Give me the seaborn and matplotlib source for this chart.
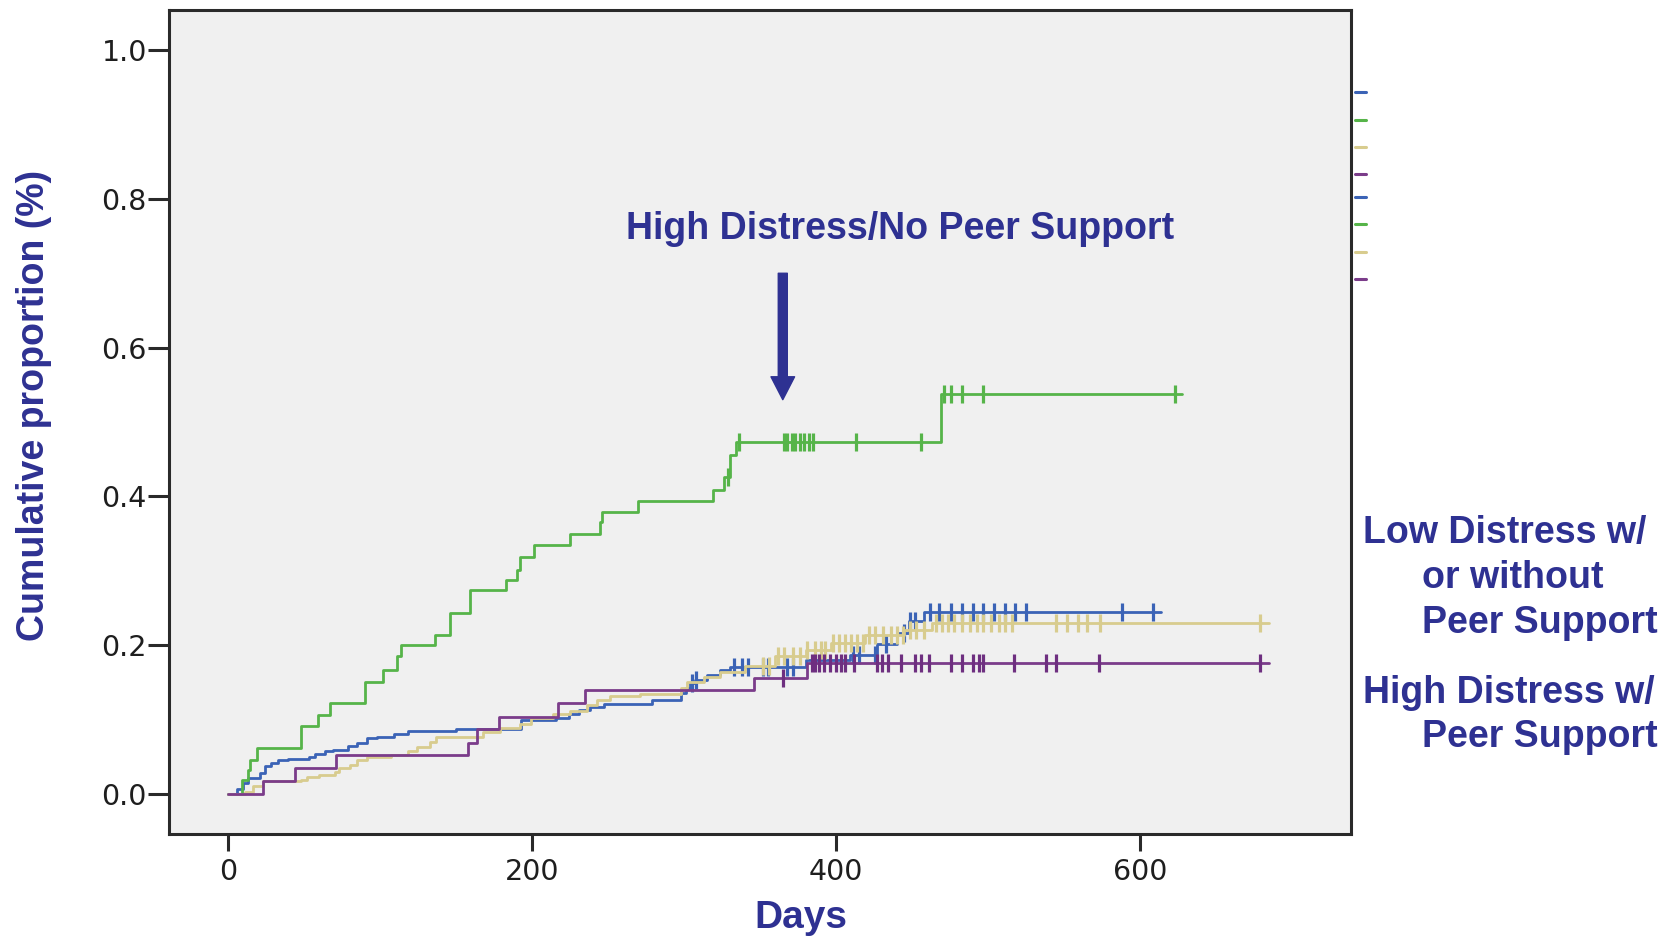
import numpy as np
import pandas as pd
import matplotlib
matplotlib.use("Agg")
import matplotlib.pyplot as plt
from matplotlib.lines import Line2D
import seaborn as sns

# ---------------- data ----------------
# High Distress / No Peer Support (green)
green_t = [0, 9, 13, 14, 19, 48, 59, 67, 90, 102, 111, 114, 136, 146, 159, 183, 190,
           192, 201, 225, 245, 246, 270, 319, 326, 330, 334, 469]
green_p = [0, .019, .032, .046, .062, .091, .106, .122, .151, .167, .185, .200, .214,
           .243, .274, .288, .301, .319, .335, .350, .365, .379, .394, .409, .426, .456,
           .473, .537]
green_end = 628
green_cens = [329, 336, 366, 368, 371, 373, 376, 379, 382, 385, 413, 456, 471, 476, 483,
              497, 623]

# Low distress (blue)
blue_t = [0, 6, 10, 13, 21, 24, 28, 33, 39, 53, 57, 64, 69, 79, 85, 91, 98, 109, 118,
          150, 193, 216, 224, 231, 238, 247, 279, 298, 301, 304, 307, 315, 324, 330, 380,
          409, 427, 440, 448, 458]
blue_p = [0, .007, .014, .021, .028, .037, .041, .045, .047, .049, .054, .057, .059, .064,
          .069, .075, .077, .081, .085, .087, .099, .102, .107, .113, .117, .121, .126,
          .135, .142, .149, .153, .160, .167, .171, .180, .187, .202, .216, .232, .245]
blue_end = 614
blue_cens = [305, 308, 333, 338, 342, 352, 355, 368, 372, 411, 415, 426, 433, 445, 449,
             452, 462, 468, 476, 483, 490, 497, 504, 511, 518, 525, 588, 609]

# Low distress (beige)
beige_t = [0, 11, 16, 23, 48, 52, 60, 70, 73, 80, 85, 91, 107, 118, 124, 133, 137, 168,
           179, 192, 199, 214, 225, 236, 243, 251, 271, 298, 302, 313, 324, 340, 360, 380,
           397, 419, 445, 463]
beige_p = [0, .003, .010, .017, .018, .022, .025, .030, .035, .039, .045, .049, .052,
           .057, .063, .070, .077, .083, .088, .094, .102, .108, .112, .119, .126, .131,
           .134, .142, .151, .157, .164, .172, .185, .193, .203, .214, .220, .230]
beige_end = 685
beige_cens = [352, 356, 362, 366, 372, 376, 381, 386, 390, 393, 398, 402, 406, 410, 414,
              418, 422, 426, 431, 436, 440, 444, 449, 453, 458, 466, 470, 474, 478, 483,
              488, 493, 497, 502, 507, 511, 516, 545, 552, 559, 565, 574, 679]

# High Distress w/ Peer Support (purple)
purple_t = [0, 23, 44, 71, 158, 164, 178, 217, 235, 346, 381]
purple_p = [0, .017, .035, .052, .068, .087, .103, .122, .140, .156, .176]
purple_end = 685
purple_cens = [365, 384, 386, 389, 392, 396, 400, 403, 406, 412, 427, 430, 434, 443, 452,
               456, 461, 476, 483, 490, 494, 497, 517, 538, 545, 573, 679]

x_ticks = [0, 200, 400, 600]
y_ticks = [0.0, 0.2, 0.4, 0.6, 0.8, 1.0]
y_tick_labels = ["0.0", "0.2", "0.4", "0.6", "0.8", "1.0"]

C_GREEN = "#56B449"
C_BLUE = "#3B63B6"
C_BEIGE = "#D8CC8E"
C_PURPLE = "#7B3C8A"
NAVY = "#2E3192"

# ---------------- figure ----------------
sns.set_theme(style="white")
plt.rcParams["font.family"] = ["Liberation Sans", "DejaVu Sans"]

W, H = 1678, 936
fig = plt.figure(figsize=(W / 100, H / 100), dpi=100)
fig.patch.set_facecolor("white")
L, R, T, B = 169, 1351, 10, 834
ax = fig.add_axes([L / W, 1 - B / H, (R - L) / W, (B - T) / H])
ax.set_facecolor("#F0F0F0")


def step_frame(t, p, end):
    return pd.DataFrame({"t": list(t) + [end], "p": list(p) + [p[-1]]})


def cens_frame(t, p, cens):
    t = np.asarray(t, float)
    p = np.asarray(p, float)
    idx = np.searchsorted(t, np.asarray(cens, float), side="right") - 1
    return pd.DataFrame({"t": cens, "p": p[idx]})


series = [
    (blue_t, blue_p, blue_end, blue_cens, C_BLUE, C_BLUE),
    (green_t, green_p, green_end, green_cens, C_GREEN, C_GREEN),
    (beige_t, beige_p, beige_end, beige_cens, C_BEIGE, C_BEIGE),
    (purple_t, purple_p, purple_end, purple_cens, C_PURPLE, "#6E2F80"),
]

for t, p, end, cens, col, mcol in series:
    sf = step_frame(t, p, end)
    sns.lineplot(data=sf, x="t", y="p", ax=ax, color=col, lw=2.0,
                 drawstyle="steps-post", estimator=None, sort=False)
    cf = cens_frame(t, p, cens)
    sns.lineplot(data=cf, x="t", y="p", ax=ax, color=mcol, linestyle="",
                 marker="|", markersize=13, markeredgewidth=2.3,
                 markeredgecolor=mcol, estimator=None, sort=False)

ax.set_xlim(-39, 739)
ax.set_ylim(-0.054, 1.054)
ax.set_xticks(x_ticks)
ax.set_xticklabels([str(v) for v in x_ticks])
ax.set_yticks(y_ticks)
ax.set_yticklabels(y_tick_labels)

for s in ax.spines.values():
    s.set_visible(True)
    s.set_color("#2A2A2A")
    s.set_linewidth(2.2)

ax.tick_params(axis="y", direction="out", length=15, width=2.2, color="#2A2A2A",
               pad=1, labelsize=20.5, labelcolor="#1E1E1E", left=True)
ax.tick_params(axis="x", direction="out", length=12, width=2.2, color="#2A2A2A",
               pad=5, labelsize=20.5, labelcolor="#1E1E1E", bottom=True)
for lab in ax.get_xticklabels() + ax.get_yticklabels():
    lab.set_family(["DejaVu Sans"])

narrow = ["Liberation Sans Narrow", "Liberation Sans", "DejaVu Sans"]
ax.set_xlabel("Days", fontsize=28, fontweight="bold", color=NAVY, family=narrow)
ax.xaxis.set_label_coords((801 - L) / (R - L), (B - 928) / (B - T))
ax.xaxis.label.set_va("baseline")
ax.set_ylabel("Cumulative proportion (%)", fontsize=27, fontweight="bold", color=NAVY,
              family=narrow)
ax.yaxis.label.set_va("center")
ax.yaxis.label.set_ha("center")
ax.yaxis.set_label_coords((34 - L) / (R - L), (B - 405) / (B - T))

# annotation arrow + text
ax.annotate("", xy=(365, 0.53), xytext=(365, 0.70),
            arrowprops=dict(facecolor=NAVY, edgecolor=NAVY, width=6.5, headwidth=17,
                            headlength=16.5, shrink=0))
fig.text(900 / W, 1 - 239 / H, "High Distress/No Peer Support", ha="center",
         va="baseline", fontsize=27, fontweight="bold", color=NAVY)

right_lines = [
    ("Low Distress w/", 1363, 543),
    ("or without", 1422, 588),
    ("Peer Support", 1422, 633),
    ("High Distress w/", 1363, 703),
    ("Peer Support", 1422, 747),
]
for txt, x, y in right_lines:
    fig.text(x / W, 1 - y / H, txt, ha="left", va="baseline", fontsize=27,
             fontweight="bold", color=NAVY)

# fragments of a clipped legend to the right of the frame
frag_y = [92, 120, 147, 174, 197, 224, 252, 279]
frag_c = [C_BLUE, C_GREEN, C_BEIGE, C_PURPLE] * 2
for y, c in zip(frag_y, frag_c):
    fig.add_artist(Line2D([1355 / W, 1366 / W], [1 - y / H, 1 - y / H],
                          transform=fig.transFigure, color=c, lw=2.2))

fig.savefig("out.png", dpi=100, facecolor="white")
